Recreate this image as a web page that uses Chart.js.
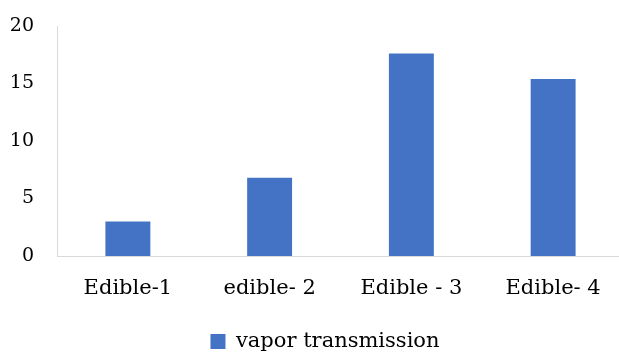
<!DOCTYPE html>
<html>
<head>
<meta charset="utf-8">
<script src="https://cdn.jsdelivr.net/npm/chart.js@4.4.1/dist/chart.umd.min.js"></script>
<style>
  html, body { margin: 0; padding: 0; background: #fff; overflow: hidden; }
  #clip { width: 619px; height: 354px; overflow: hidden; }
  #vaporChart { display: block; }
</style>
</head>
<body>
<div id="clip"><canvas id="vaporChart" width="650" height="362"></canvas></div>
<script>
// data
const categories = ["Edible-1", "edible- 2", "Edible - 3", "Edible- 4"];
const vaporValues = [3.0, 6.8, 17.6, 15.4];
const yTicks = [0, 5, 10, 15, 20];

const FONT = "'DejaVu Serif', serif";

// the legend in the reference sits a little right of centre
const legendShift = {
  id: "legendShift",
  afterLayout(chart) {
    chart.legend.left += 13;
    chart.legend.right += 13;
  },
};

const ctx = document.getElementById("vaporChart").getContext("2d");

new Chart(ctx, {
  type: "bar",
  data: {
    labels: categories,
    datasets: [
      {
        label: "vapor transmission",
        data: vaporValues,
        backgroundColor: "#4472C4",
        borderWidth: 0,
        categoryPercentage: 1,
        barPercentage: 0.317,
      },
    ],
  },
  options: {
    responsive: false,
    animation: false,
    // canvas is a bit bigger than the window; plot runs past the right edge like the reference
    layout: { padding: { top: 26, right: 26, bottom: 0, left: 0 } },
    plugins: {
      tooltip: { enabled: false },
      legend: {
        position: "bottom",
        labels: {
          color: "#000",
          font: { family: FONT, size: 21 },
          boxWidth: 15,
          boxHeight: 15,
          padding: 0,
        },
      },
    },
    scales: {
      y: {
        min: 0,
        max: 20,
        afterFit: (scale) => {
          scale.width = 57;
          scale.paddingTop = 0;
          scale.paddingBottom = 0;
        },
        afterBuildTicks: (scale) => {
          scale.ticks = yTicks.map((v) => ({ value: v }));
        },
        grid: { display: false, drawTicks: false },
        border: { display: true, color: "#d9d9d9", width: 1 },
        ticks: {
          color: "#000",
          font: { family: FONT, size: 19 },
          padding: 23,
        },
      },
      x: {
        afterFit: (scale) => { scale.height = 75; },
        grid: { display: false, drawTicks: false },
        border: { display: true, color: "#d9d9d9", width: 1 },
        ticks: {
          color: "#000",
          font: { family: FONT, size: 21 },
          padding: 20,
          maxRotation: 0,
        },
      },
    },
  },
  plugins: [legendShift],
});
</script>
</body>
</html>
